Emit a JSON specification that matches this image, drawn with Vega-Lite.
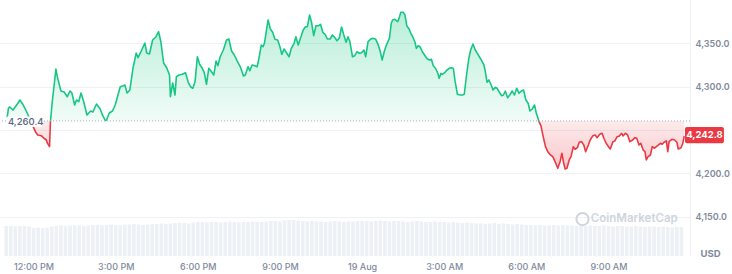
{
"$schema":"https://vega.github.io/schema/vega-lite/v6.json",
"width":690,"height":256,
"autosize":{"type":"none"},
"padding":{"left":0,"top":0,"right":42,"bottom":18},
"background":"white",
"config":{"view":{"stroke":null}},
"datasets":{
"price":[
{"t":"2025-08-18T11:01:00Z","p":4259.5},{"t":"2025-08-18T11:05:00Z","p":4275.3},{"t":"2025-08-18T11:08:00Z","p":4276.5},{"t":"2025-08-18T11:15:00Z","p":4273.0},{"t":"2025-08-18T11:26:00Z","p":4281.1},{"t":"2025-08-18T11:30:00Z","p":4284.6},{"t":"2025-08-18T11:36:00Z","p":4280.0},{"t":"2025-08-18T11:43:00Z","p":4273.0},{"t":"2025-08-18T11:46:00Z","p":4269.6},{"t":"2025-08-18T12:04:00Z","p":4248.0},{"t":"2025-08-18T12:09:00Z","p":4244.2},{"t":"2025-08-18T12:17:00Z","p":4243.4},{"t":"2025-08-18T12:22:00Z","p":4240.7},{"t":"2025-08-18T12:28:00Z","p":4238.4},{"t":"2025-08-18T12:30:00Z","p":4235.0},{"t":"2025-08-18T12:35:00Z","p":4230.7},{"t":"2025-08-18T12:37:00Z","p":4259.5},{"t":"2025-08-18T12:41:00Z","p":4282.6},{"t":"2025-08-18T12:49:00Z","p":4320.3},{"t":"2025-08-18T12:52:00Z","p":4311.5},{"t":"2025-08-18T13:00:00Z","p":4295.0},{"t":"2025-08-18T13:07:00Z","p":4293.8},{"t":"2025-08-18T13:14:00Z","p":4288.4},{"t":"2025-08-18T13:20:00Z","p":4295.0},{"t":"2025-08-18T13:24:00Z","p":4292.7},{"t":"2025-08-18T13:30:00Z","p":4278.8},{"t":"2025-08-18T13:34:00Z","p":4284.6},{"t":"2025-08-18T13:39:00Z","p":4282.6},{"t":"2025-08-18T13:44:00Z","p":4292.7},{"t":"2025-08-18T13:50:00Z","p":4282.6},{"t":"2025-08-18T13:57:00Z","p":4267.3},{"t":"2025-08-18T14:01:00Z","p":4269.6},{"t":"2025-08-18T14:05:00Z","p":4271.9},{"t":"2025-08-18T14:10:00Z","p":4270.7},{"t":"2025-08-18T14:18:00Z","p":4280.0},{"t":"2025-08-18T14:26:00Z","p":4274.2},{"t":"2025-08-18T14:31:00Z","p":4267.3},{"t":"2025-08-18T14:37:00Z","p":4261.0},{"t":"2025-08-18T14:40:00Z","p":4261.5},{"t":"2025-08-18T14:46:00Z","p":4269.6},{"t":"2025-08-18T14:53:00Z","p":4271.9},{"t":"2025-08-18T14:59:00Z","p":4278.8},{"t":"2025-08-18T15:02:00Z","p":4284.6},{"t":"2025-08-18T15:10:00Z","p":4299.9},{"t":"2025-08-18T15:17:00Z","p":4301.1},{"t":"2025-08-18T15:20:00Z","p":4301.9},{"t":"2025-08-18T15:25:00Z","p":4292.7},{"t":"2025-08-18T15:31:00Z","p":4296.1},{"t":"2025-08-18T15:38:00Z","p":4321.5},{"t":"2025-08-18T15:45:00Z","p":4338.8},{"t":"2025-08-18T15:49:00Z","p":4333.4},{"t":"2025-08-18T15:56:00Z","p":4341.1},{"t":"2025-08-18T16:04:00Z","p":4350.3},{"t":"2025-08-18T16:08:00Z","p":4338.8},{"t":"2025-08-18T16:14:00Z","p":4337.7},{"t":"2025-08-18T16:21:00Z","p":4353.8},{"t":"2025-08-18T16:28:00Z","p":4357.3},{"t":"2025-08-18T16:34:00Z","p":4363.4},{"t":"2025-08-18T16:39:00Z","p":4351.8},{"t":"2025-08-18T16:45:00Z","p":4327.3},{"t":"2025-08-18T16:52:00Z","p":4321.5},{"t":"2025-08-18T16:58:00Z","p":4313.4},{"t":"2025-08-18T17:00:00Z","p":4288.4},{"t":"2025-08-18T17:05:00Z","p":4304.2},{"t":"2025-08-18T17:10:00Z","p":4290.3},{"t":"2025-08-18T17:13:00Z","p":4311.5},{"t":"2025-08-18T17:19:00Z","p":4313.4},{"t":"2025-08-18T17:26:00Z","p":4314.2},{"t":"2025-08-18T17:33:00Z","p":4316.1},{"t":"2025-08-18T17:39:00Z","p":4305.0},{"t":"2025-08-18T17:44:00Z","p":4299.9},{"t":"2025-08-18T17:49:00Z","p":4298.1},{"t":"2025-08-18T17:54:00Z","p":4305.7},{"t":"2025-08-18T17:59:00Z","p":4334.5},{"t":"2025-08-18T18:04:00Z","p":4325.8},{"t":"2025-08-18T18:09:00Z","p":4321.8},{"t":"2025-08-18T18:14:00Z","p":4316.5},{"t":"2025-08-18T18:19:00Z","p":4302.7},{"t":"2025-08-18T18:24:00Z","p":4321.2},{"t":"2025-08-18T18:30:00Z","p":4317.2},{"t":"2025-08-18T18:35:00Z","p":4313.4},{"t":"2025-08-18T18:40:00Z","p":4329.6},{"t":"2025-08-18T18:44:00Z","p":4324.2},{"t":"2025-08-18T18:49:00Z","p":4334.5},{"t":"2025-08-18T18:56:00Z","p":4342.3},{"t":"2025-08-18T19:03:00Z","p":4353.8},{"t":"2025-08-18T19:08:00Z","p":4355.0},{"t":"2025-08-18T19:14:00Z","p":4341.1},{"t":"2025-08-18T19:20:00Z","p":4336.5},{"t":"2025-08-18T19:27:00Z","p":4328.8},{"t":"2025-08-18T19:34:00Z","p":4321.8},{"t":"2025-08-18T19:40:00Z","p":4312.3},{"t":"2025-08-18T19:44:00Z","p":4313.4},{"t":"2025-08-18T19:50:00Z","p":4323.0},{"t":"2025-08-18T19:54:00Z","p":4318.4},{"t":"2025-08-18T19:59:00Z","p":4325.0},{"t":"2025-08-18T20:05:00Z","p":4324.2},{"t":"2025-08-18T20:10:00Z","p":4323.0},{"t":"2025-08-18T20:14:00Z","p":4332.7},{"t":"2025-08-18T20:19:00Z","p":4348.0},{"t":"2025-08-18T20:23:00Z","p":4346.1},{"t":"2025-08-18T20:26:00Z","p":4350.0},{"t":"2025-08-18T20:34:00Z","p":4376.9},{"t":"2025-08-18T20:39:00Z","p":4366.5},{"t":"2025-08-18T20:44:00Z","p":4362.7},{"t":"2025-08-18T20:49:00Z","p":4354.6},{"t":"2025-08-18T20:55:00Z","p":4353.8},{"t":"2025-08-18T21:00:00Z","p":4346.1},{"t":"2025-08-18T21:04:00Z","p":4337.3},{"t":"2025-08-18T21:09:00Z","p":4343.4},{"t":"2025-08-18T21:15:00Z","p":4338.5},{"t":"2025-08-18T21:20:00Z","p":4334.5},{"t":"2025-08-18T21:25:00Z","p":4344.2},{"t":"2025-08-18T21:31:00Z","p":4350.0},{"t":"2025-08-18T21:35:00Z","p":4357.6},{"t":"2025-08-18T21:40:00Z","p":4348.0},{"t":"2025-08-18T21:45:00Z","p":4355.8},{"t":"2025-08-18T21:51:00Z","p":4365.3},{"t":"2025-08-18T21:56:00Z","p":4369.2},{"t":"2025-08-18T22:00:00Z","p":4369.2},{"t":"2025-08-18T22:05:00Z","p":4382.7},{"t":"2025-08-18T22:09:00Z","p":4374.9},{"t":"2025-08-18T22:14:00Z","p":4358.8},{"t":"2025-08-18T22:19:00Z","p":4370.3},{"t":"2025-08-18T22:25:00Z","p":4370.3},{"t":"2025-08-18T22:29:00Z","p":4371.9},{"t":"2025-08-18T22:34:00Z","p":4362.7},{"t":"2025-08-18T22:39:00Z","p":4360.4},{"t":"2025-08-18T22:44:00Z","p":4355.0},{"t":"2025-08-18T22:50:00Z","p":4355.0},{"t":"2025-08-18T22:55:00Z","p":4359.6},{"t":"2025-08-18T23:00:00Z","p":4356.9},{"t":"2025-08-18T23:05:00Z","p":4353.0},{"t":"2025-08-18T23:10:00Z","p":4355.8},{"t":"2025-08-18T23:15:00Z","p":4368.8},{"t":"2025-08-18T23:20:00Z","p":4359.6},{"t":"2025-08-18T23:25:00Z","p":4351.2},{"t":"2025-08-18T23:29:00Z","p":4357.6},{"t":"2025-08-18T23:33:00Z","p":4352.7},{"t":"2025-08-18T23:39:00Z","p":4334.5},{"t":"2025-08-18T23:44:00Z","p":4335.7},{"t":"2025-08-18T23:49:00Z","p":4340.3},{"t":"2025-08-18T23:54:00Z","p":4338.5},{"t":"2025-08-18T23:59:00Z","p":4339.2},
{"t":"2025-08-19T00:04:00Z","p":4342.3},{"t":"2025-08-19T00:08:00Z","p":4334.5},{"t":"2025-08-19T00:13:00Z","p":4351.8},{"t":"2025-08-19T00:18:00Z","p":4354.6},{"t":"2025-08-19T00:24:00Z","p":4355.8},{"t":"2025-08-19T00:30:00Z","p":4354.6},{"t":"2025-08-19T00:35:00Z","p":4348.8},{"t":"2025-08-19T00:40:00Z","p":4340.3},{"t":"2025-08-19T00:44:00Z","p":4330.7},{"t":"2025-08-19T00:49:00Z","p":4341.1},{"t":"2025-08-19T00:54:00Z","p":4348.8},{"t":"2025-08-19T01:00:00Z","p":4355.8},{"t":"2025-08-19T01:04:00Z","p":4373.1},{"t":"2025-08-19T01:07:00Z","p":4376.9},{"t":"2025-08-19T01:12:00Z","p":4377.7},{"t":"2025-08-19T01:18:00Z","p":4374.9},{"t":"2025-08-19T01:21:00Z","p":4378.8},{"t":"2025-08-19T01:25:00Z","p":4385.8},{"t":"2025-08-19T01:30:00Z","p":4385.8},{"t":"2025-08-19T01:34:00Z","p":4382.7},{"t":"2025-08-19T01:38:00Z","p":4370.3},{"t":"2025-08-19T01:43:00Z","p":4366.5},{"t":"2025-08-19T01:47:00Z","p":4361.5},{"t":"2025-08-19T01:52:00Z","p":4356.5},{"t":"2025-08-19T01:56:00Z","p":4351.2},{"t":"2025-08-19T01:59:00Z","p":4344.2},{"t":"2025-08-19T02:03:00Z","p":4347.2},{"t":"2025-08-19T02:07:00Z","p":4346.1},{"t":"2025-08-19T02:12:00Z","p":4340.3},{"t":"2025-08-19T02:18:00Z","p":4335.7},{"t":"2025-08-19T02:23:00Z","p":4331.9},{"t":"2025-08-19T02:28:00Z","p":4330.7},{"t":"2025-08-19T02:32:00Z","p":4331.5},{"t":"2025-08-19T02:36:00Z","p":4324.2},{"t":"2025-08-19T02:41:00Z","p":4321.2},{"t":"2025-08-19T02:46:00Z","p":4315.4},{"t":"2025-08-19T02:49:00Z","p":4309.6},{"t":"2025-08-19T02:53:00Z","p":4315.4},{"t":"2025-08-19T02:56:00Z","p":4314.2},{"t":"2025-08-19T03:01:00Z","p":4316.1},{"t":"2025-08-19T03:06:00Z","p":4319.2},{"t":"2025-08-19T03:11:00Z","p":4321.2},{"t":"2025-08-19T03:15:00Z","p":4321.8},{"t":"2025-08-19T03:20:00Z","p":4321.2},{"t":"2025-08-19T03:24:00Z","p":4305.7},{"t":"2025-08-19T03:29:00Z","p":4291.2},{"t":"2025-08-19T03:35:00Z","p":4290.3},{"t":"2025-08-19T03:40:00Z","p":4290.3},{"t":"2025-08-19T03:44:00Z","p":4291.2},{"t":"2025-08-19T03:49:00Z","p":4313.4},{"t":"2025-08-19T03:54:00Z","p":4332.7},{"t":"2025-08-19T03:58:00Z","p":4342.3},{"t":"2025-08-19T04:03:00Z","p":4349.2},{"t":"2025-08-19T04:08:00Z","p":4342.3},{"t":"2025-08-19T04:14:00Z","p":4337.3},{"t":"2025-08-19T04:20:00Z","p":4331.9},{"t":"2025-08-19T04:27:00Z","p":4325.0},{"t":"2025-08-19T04:30:00Z","p":4318.0},{"t":"2025-08-19T04:34:00Z","p":4305.0},{"t":"2025-08-19T04:38:00Z","p":4307.7},{"t":"2025-08-19T04:43:00Z","p":4301.9},{"t":"2025-08-19T04:47:00Z","p":4296.1},{"t":"2025-08-19T04:52:00Z","p":4299.2},{"t":"2025-08-19T04:56:00Z","p":4298.1},{"t":"2025-08-19T05:01:00Z","p":4293.5},{"t":"2025-08-19T05:06:00Z","p":4289.5},{"t":"2025-08-19T05:10:00Z","p":4290.3},{"t":"2025-08-19T05:14:00Z","p":4295.0},{"t":"2025-08-19T05:19:00Z","p":4287.2},{"t":"2025-08-19T05:25:00Z","p":4291.2},{"t":"2025-08-19T05:29:00Z","p":4295.0},{"t":"2025-08-19T05:34:00Z","p":4290.3},{"t":"2025-08-19T05:39:00Z","p":4298.1},{"t":"2025-08-19T05:44:00Z","p":4292.3},{"t":"2025-08-19T05:49:00Z","p":4295.0},{"t":"2025-08-19T05:54:00Z","p":4296.1},{"t":"2025-08-19T05:59:00Z","p":4284.6},{"t":"2025-08-19T06:04:00Z","p":4280.8},{"t":"2025-08-19T06:08:00Z","p":4271.9},{"t":"2025-08-19T06:13:00Z","p":4274.2},{"t":"2025-08-19T06:18:00Z","p":4278.8},{"t":"2025-08-19T06:22:00Z","p":4269.2},{"t":"2025-08-19T06:28:00Z","p":4259.5},{"t":"2025-08-19T06:32:00Z","p":4254.9},{"t":"2025-08-19T06:37:00Z","p":4242.2},{"t":"2025-08-19T06:42:00Z","p":4230.7},{"t":"2025-08-19T06:47:00Z","p":4224.9},{"t":"2025-08-19T06:53:00Z","p":4221.1},{"t":"2025-08-19T06:58:00Z","p":4219.2},{"t":"2025-08-19T07:03:00Z","p":4213.4},{"t":"2025-08-19T07:09:00Z","p":4205.8},{"t":"2025-08-19T07:14:00Z","p":4213.4},{"t":"2025-08-19T07:18:00Z","p":4223.1},{"t":"2025-08-19T07:22:00Z","p":4211.5},{"t":"2025-08-19T07:25:00Z","p":4205.0},{"t":"2025-08-19T07:29:00Z","p":4205.8},{"t":"2025-08-19T07:34:00Z","p":4215.4},{"t":"2025-08-19T07:38:00Z","p":4219.2},{"t":"2025-08-19T07:43:00Z","p":4230.7},{"t":"2025-08-19T07:47:00Z","p":4227.7},{"t":"2025-08-19T07:52:00Z","p":4229.5},{"t":"2025-08-19T07:56:00Z","p":4235.8},{"t":"2025-08-19T08:01:00Z","p":4236.5},{"t":"2025-08-19T08:06:00Z","p":4232.7},{"t":"2025-08-19T08:10:00Z","p":4224.9},{"t":"2025-08-19T08:16:00Z","p":4232.7},{"t":"2025-08-19T08:20:00Z","p":4238.4},{"t":"2025-08-19T08:26:00Z","p":4243.4},{"t":"2025-08-19T08:31:00Z","p":4244.2},{"t":"2025-08-19T08:35:00Z","p":4241.1},{"t":"2025-08-19T08:41:00Z","p":4245.0},{"t":"2025-08-19T08:46:00Z","p":4246.2},{"t":"2025-08-19T08:50:00Z","p":4240.4},{"t":"2025-08-19T08:55:00Z","p":4234.6},{"t":"2025-08-19T09:00:00Z","p":4230.7},{"t":"2025-08-19T09:04:00Z","p":4228.0},{"t":"2025-08-19T09:10:00Z","p":4236.5},{"t":"2025-08-19T09:14:00Z","p":4237.3},{"t":"2025-08-19T09:19:00Z","p":4242.2},{"t":"2025-08-19T09:24:00Z","p":4243.0},{"t":"2025-08-19T09:29:00Z","p":4246.2},{"t":"2025-08-19T09:32:00Z","p":4243.0},{"t":"2025-08-19T09:37:00Z","p":4246.2},{"t":"2025-08-19T09:42:00Z","p":4244.2},{"t":"2025-08-19T09:47:00Z","p":4236.5},{"t":"2025-08-19T09:53:00Z","p":4238.4},{"t":"2025-08-19T09:58:00Z","p":4241.1},{"t":"2025-08-19T10:02:00Z","p":4240.4},{"t":"2025-08-19T10:07:00Z","p":4232.7},{"t":"2025-08-19T10:11:00Z","p":4234.6},{"t":"2025-08-19T10:16:00Z","p":4226.9},{"t":"2025-08-19T10:20:00Z","p":4224.9},{"t":"2025-08-19T10:23:00Z","p":4215.4},{"t":"2025-08-19T10:27:00Z","p":4219.2},{"t":"2025-08-19T10:32:00Z","p":4221.1},{"t":"2025-08-19T10:36:00Z","p":4230.7},{"t":"2025-08-19T10:41:00Z","p":4228.9},{"t":"2025-08-19T10:45:00Z","p":4230.7},{"t":"2025-08-19T10:50:00Z","p":4232.7},{"t":"2025-08-19T10:54:00Z","p":4234.6},{"t":"2025-08-19T10:58:00Z","p":4233.5},{"t":"2025-08-19T11:02:00Z","p":4235.8},{"t":"2025-08-19T11:07:00Z","p":4237.3},{"t":"2025-08-19T11:10:00Z","p":4224.9},{"t":"2025-08-19T11:13:00Z","p":4236.5},{"t":"2025-08-19T11:19:00Z","p":4239.2},{"t":"2025-08-19T11:25:00Z","p":4238.4},{"t":"2025-08-19T11:30:00Z","p":4235.8},{"t":"2025-08-19T11:33:00Z","p":4228.0},{"t":"2025-08-19T11:39:00Z","p":4229.5},{"t":"2025-08-19T11:43:00Z","p":4234.6},{"t":"2025-08-19T11:46:00Z","p":4242.8}
],
"vol":[
{"t":"2025-08-18T11:00:00Z","v":300},{"t":"2025-08-18T11:10:00Z","v":300},{"t":"2025-08-18T11:20:00Z","v":295},{"t":"2025-08-18T11:30:00Z","v":300},{"t":"2025-08-18T11:40:00Z","v":300},{"t":"2025-08-18T11:50:00Z","v":295},{"t":"2025-08-18T12:00:00Z","v":280},{"t":"2025-08-18T12:10:00Z","v":285},{"t":"2025-08-18T12:20:00Z","v":280},{"t":"2025-08-18T12:30:00Z","v":285},{"t":"2025-08-18T12:40:00Z","v":295},{"t":"2025-08-18T12:50:00Z","v":300},{"t":"2025-08-18T13:00:00Z","v":305},{"t":"2025-08-18T13:10:00Z","v":300},{"t":"2025-08-18T13:20:00Z","v":305},{"t":"2025-08-18T13:30:00Z","v":310},{"t":"2025-08-18T13:40:00Z","v":305},{"t":"2025-08-18T13:50:00Z","v":300},{"t":"2025-08-18T14:00:00Z","v":305},{"t":"2025-08-18T14:10:00Z","v":310},{"t":"2025-08-18T14:20:00Z","v":310},{"t":"2025-08-18T14:30:00Z","v":305},{"t":"2025-08-18T14:40:00Z","v":310},{"t":"2025-08-18T14:50:00Z","v":315},{"t":"2025-08-18T15:00:00Z","v":310},{"t":"2025-08-18T15:10:00Z","v":310},{"t":"2025-08-18T15:20:00Z","v":315},{"t":"2025-08-18T15:30:00Z","v":315},{"t":"2025-08-18T15:40:00Z","v":320},{"t":"2025-08-18T15:50:00Z","v":315},{"t":"2025-08-18T16:00:00Z","v":310},{"t":"2025-08-18T16:10:00Z","v":315},{"t":"2025-08-18T16:20:00Z","v":320},{"t":"2025-08-18T16:30:00Z","v":320},{"t":"2025-08-18T16:40:00Z","v":325},{"t":"2025-08-18T16:50:00Z","v":320},{"t":"2025-08-18T17:00:00Z","v":325},{"t":"2025-08-18T17:10:00Z","v":330},{"t":"2025-08-18T17:20:00Z","v":335},{"t":"2025-08-18T17:30:00Z","v":330},{"t":"2025-08-18T17:40:00Z","v":325},{"t":"2025-08-18T17:50:00Z","v":335},{"t":"2025-08-18T18:00:00Z","v":340},{"t":"2025-08-18T18:10:00Z","v":340},{"t":"2025-08-18T18:20:00Z","v":335},{"t":"2025-08-18T18:30:00Z","v":340},{"t":"2025-08-18T18:40:00Z","v":340},{"t":"2025-08-18T18:50:00Z","v":335},{"t":"2025-08-18T19:00:00Z","v":340},{"t":"2025-08-18T19:10:00Z","v":345},{"t":"2025-08-18T19:20:00Z","v":340},{"t":"2025-08-18T19:30:00Z","v":335},{"t":"2025-08-18T19:40:00Z","v":340},{"t":"2025-08-18T19:50:00Z","v":340},{"t":"2025-08-18T20:00:00Z","v":345},{"t":"2025-08-18T20:10:00Z","v":340},{"t":"2025-08-18T20:20:00Z","v":340},{"t":"2025-08-18T20:30:00Z","v":345},{"t":"2025-08-18T20:40:00Z","v":350},{"t":"2025-08-18T20:50:00Z","v":350},{"t":"2025-08-18T21:00:00Z","v":345},{"t":"2025-08-18T21:10:00Z","v":355},{"t":"2025-08-18T21:20:00Z","v":360},{"t":"2025-08-18T21:30:00Z","v":360},{"t":"2025-08-18T21:40:00Z","v":355},{"t":"2025-08-18T21:50:00Z","v":350},{"t":"2025-08-18T22:00:00Z","v":345},{"t":"2025-08-18T22:10:00Z","v":350},{"t":"2025-08-18T22:20:00Z","v":345},{"t":"2025-08-18T22:30:00Z","v":345},{"t":"2025-08-18T22:40:00Z","v":340},{"t":"2025-08-18T22:50:00Z","v":345},{"t":"2025-08-18T23:00:00Z","v":350},{"t":"2025-08-18T23:10:00Z","v":345},{"t":"2025-08-18T23:20:00Z","v":340},{"t":"2025-08-18T23:30:00Z","v":345},{"t":"2025-08-18T23:40:00Z","v":345},{"t":"2025-08-18T23:50:00Z","v":350},
{"t":"2025-08-19T00:00:00Z","v":350},{"t":"2025-08-19T00:10:00Z","v":350},{"t":"2025-08-19T00:20:00Z","v":345},{"t":"2025-08-19T00:30:00Z","v":350},{"t":"2025-08-19T00:40:00Z","v":355},{"t":"2025-08-19T00:50:00Z","v":350},{"t":"2025-08-19T01:00:00Z","v":345},{"t":"2025-08-19T01:10:00Z","v":350},{"t":"2025-08-19T01:20:00Z","v":350},{"t":"2025-08-19T01:30:00Z","v":345},{"t":"2025-08-19T01:40:00Z","v":340},{"t":"2025-08-19T01:50:00Z","v":345},{"t":"2025-08-19T02:00:00Z","v":350},{"t":"2025-08-19T02:10:00Z","v":345},{"t":"2025-08-19T02:20:00Z","v":340},{"t":"2025-08-19T02:30:00Z","v":340},{"t":"2025-08-19T02:40:00Z","v":345},{"t":"2025-08-19T02:50:00Z","v":340},{"t":"2025-08-19T03:00:00Z","v":340},{"t":"2025-08-19T03:10:00Z","v":335},{"t":"2025-08-19T03:20:00Z","v":340},{"t":"2025-08-19T03:30:00Z","v":335},{"t":"2025-08-19T03:40:00Z","v":330},{"t":"2025-08-19T03:50:00Z","v":335},{"t":"2025-08-19T04:00:00Z","v":330},{"t":"2025-08-19T04:10:00Z","v":325},{"t":"2025-08-19T04:20:00Z","v":325},{"t":"2025-08-19T04:30:00Z","v":320},{"t":"2025-08-19T04:40:00Z","v":325},{"t":"2025-08-19T04:50:00Z","v":330},{"t":"2025-08-19T05:00:00Z","v":320},{"t":"2025-08-19T05:10:00Z","v":325},{"t":"2025-08-19T05:20:00Z","v":320},{"t":"2025-08-19T05:30:00Z","v":315},{"t":"2025-08-19T05:40:00Z","v":320},{"t":"2025-08-19T05:50:00Z","v":315},{"t":"2025-08-19T06:00:00Z","v":310},{"t":"2025-08-19T06:10:00Z","v":310},{"t":"2025-08-19T06:20:00Z","v":305},{"t":"2025-08-19T06:30:00Z","v":310},{"t":"2025-08-19T06:40:00Z","v":305},{"t":"2025-08-19T06:50:00Z","v":305},{"t":"2025-08-19T07:00:00Z","v":310},{"t":"2025-08-19T07:10:00Z","v":305},{"t":"2025-08-19T07:20:00Z","v":310},{"t":"2025-08-19T07:30:00Z","v":305},{"t":"2025-08-19T07:40:00Z","v":305},{"t":"2025-08-19T07:50:00Z","v":300},{"t":"2025-08-19T08:00:00Z","v":305},{"t":"2025-08-19T08:10:00Z","v":300},{"t":"2025-08-19T08:20:00Z","v":305},{"t":"2025-08-19T08:30:00Z","v":300},{"t":"2025-08-19T08:40:00Z","v":300},{"t":"2025-08-19T08:50:00Z","v":305},{"t":"2025-08-19T09:00:00Z","v":300},{"t":"2025-08-19T09:10:00Z","v":295},{"t":"2025-08-19T09:20:00Z","v":300},{"t":"2025-08-19T09:30:00Z","v":300},{"t":"2025-08-19T09:40:00Z","v":295},{"t":"2025-08-19T09:50:00Z","v":295},{"t":"2025-08-19T10:00:00Z","v":300},{"t":"2025-08-19T10:10:00Z","v":295},{"t":"2025-08-19T10:20:00Z","v":290},{"t":"2025-08-19T10:30:00Z","v":295},{"t":"2025-08-19T10:40:00Z","v":295},{"t":"2025-08-19T10:50:00Z","v":290},{"t":"2025-08-19T11:00:00Z","v":295},{"t":"2025-08-19T11:10:00Z","v":290},{"t":"2025-08-19T11:20:00Z","v":285},{"t":"2025-08-19T11:30:00Z","v":290},{"t":"2025-08-19T11:40:00Z","v":290}
]
},
"layer":[
{
"data":{"name":"vol"},
"mark":{"type":"bar","color":"#edf0f4","size":3.6},
"encoding":{
"x":{"field":"t","type":"temporal","scale":{"type":"utc","nice":false,"domain":[{"year":2025,"month":8,"date":18,"hours":10,"minutes":57,"seconds":24,"utc":true},{"year":2025,"month":8,"date":19,"hours":11,"minutes":47,"seconds":48,"utc":true}]},"axis":{"title":null}},
"y":{"field":"v","type":"quantitative","scale":{"domain":[0,2560],"nice":false,"zero":true},"axis":null}
}
},
{
"data":{"name":"price"},
"layer":[
{
"mark":{"type":"area","interpolate":"linear","fill":{"gradient":"linear","x1":0,"y1":0,"x2":0,"y2":1,"stops":[{"offset":0,"color":"rgba(22,199,132,0.30)"},{"offset":0.6936,"color":"rgba(22,199,132,0.06)"},{"offset":0.6936,"color":"rgba(234,57,67,0.10)"},{"offset":1,"color":"rgba(234,57,67,0.28)"}]}},
"encoding":{
"x":{"field":"t","type":"temporal","scale":{"type":"utc","nice":false,"domain":[{"year":2025,"month":8,"date":18,"hours":10,"minutes":57,"seconds":24,"utc":true},{"year":2025,"month":8,"date":19,"hours":11,"minutes":47,"seconds":48,"utc":true}]},
"axis":{"values":[{"year":2025,"month":8,"date":18,"hours":12,"utc":true},{"year":2025,"month":8,"date":18,"hours":15,"utc":true},{"year":2025,"month":8,"date":18,"hours":18,"utc":true},{"year":2025,"month":8,"date":18,"hours":21,"utc":true},{"year":2025,"month":8,"date":19,"hours":0,"utc":true},{"year":2025,"month":8,"date":19,"hours":3,"utc":true},{"year":2025,"month":8,"date":19,"hours":6,"utc":true},{"year":2025,"month":8,"date":19,"hours":9,"utc":true}],
"labelExpr":"utchours(datum.value) == 0 ? utcFormat(datum.value, '%-d %b') : utcFormat(datum.value, '%-I:%M %p')",
"title":null,"domain":false,"ticks":false,"grid":false,"labelFont":"Inter","labelFontSize":9,"labelFontWeight":500,"labelColor":"#808a9d","labelPadding":6,"labelFlush":false,"labelOverlap":false}},
"y":{"field":"p","type":"quantitative","scale":{"domain":[4104.5,4400],"nice":false,"zero":false},
"axis":{"orient":"right","values":[4150,4200,4250,4300,4350],"format":",.1f","labelExpr":"datum.value == 4250 ? '' : datum.label","grid":true,"gridColor":"#eff1f4","gridWidth":1,"domain":true,"domainColor":"#eef0f3","ticks":false,"labelFont":"Inter","labelFontSize":9,"labelFontWeight":600,"labelColor":"#808a9d","labelPadding":5,
"title":"USD","titleAngle":0,"titleFont":"Inter","titleFontSize":9.5,"titleFontWeight":700,"titleColor":"#808a9d","titleX":10,"titleY":253,"titleAlign":"left","titleBaseline":"middle"}},
"y2":{"datum":4260.4}
}
},
{
"mark":{"type":"line","interpolate":"linear","strokeWidth":1.6,"strokeJoin":"round","stroke":{"gradient":"linear","x1":0,"y1":0,"x2":0,"y2":1,"stops":[{"offset":0,"color":"#16c784"},{"offset":0.6936,"color":"#16c784"},{"offset":0.6936,"color":"#ea3943"},{"offset":1,"color":"#ea3943"}]}},
"encoding":{
"x":{"field":"t","type":"temporal","axis":{"title":null}},
"y":{"field":"p","type":"quantitative","axis":{"title":"USD"}}
}
},
{
"data":{"values":[{}]},
"mark":{"type":"rule","color":"#a9b1bf","strokeWidth":1,"strokeDash":[1,2]},
"encoding":{"y":{"datum":4260.4,"type":"quantitative","axis":{"title":"USD"}}}
},
{
"data":{"values":[{}]},
"mark":{"type":"rect","color":"white","opacity":0.95,"cornerRadius":2},
"encoding":{
"x":{"datum":{"year":2025,"month":8,"date":18,"hours":10,"minutes":59,"seconds":36,"utc":true},"type":"temporal","axis":{"title":null}},
"x2":{"datum":{"year":2025,"month":8,"date":18,"hours":12,"minutes":19,"seconds":30,"utc":true}},
"y":{"datum":4265.5,"type":"quantitative","axis":{"title":"USD"}},
"y2":{"datum":4253.4}
}
},
{
"data":{"values":[{"label":"4,260.4"}]},
"mark":{"type":"text","font":"Inter","fontSize":9.5,"fontWeight":500,"color":"#58667e","align":"center","baseline":"middle"},
"encoding":{
"x":{"datum":{"year":2025,"month":8,"date":18,"hours":11,"minutes":42,"seconds":48,"utc":true},"type":"temporal","axis":{"title":null}},
"y":{"datum":4259.6,"type":"quantitative","axis":{"title":"USD"}},
"text":{"field":"label"}
}
},
{
"data":{"values":[{}]},
"mark":{"type":"rect","color":"#ea3943","cornerRadius":2},
"encoding":{
"x":{"datum":{"year":2025,"month":8,"date":19,"hours":11,"minutes":47,"seconds":48,"utc":true},"type":"temporal","axis":{"title":null}},
"x2":{"datum":{"year":2025,"month":8,"date":19,"hours":13,"minutes":13,"seconds":6,"utc":true}},
"y":{"datum":4253.4,"type":"quantitative","axis":{"title":"USD"}},
"y2":{"datum":4234.6}
}
},
{
"data":{"values":[{"label":"4,242.8"}]},
"mark":{"type":"text","font":"Inter","fontSize":9.5,"fontWeight":700,"color":"white","align":"center","baseline":"middle"},
"encoding":{
"x":{"datum":{"year":2025,"month":8,"date":19,"hours":12,"minutes":30,"seconds":24,"utc":true},"type":"temporal","axis":{"title":null}},
"y":{"datum":4244.0,"type":"quantitative","axis":{"title":"USD"}},
"text":{"field":"label"}
}
},
{
"data":{"values":[{}]},
"mark":{"type":"point","shape":"circle","filled":false,"stroke":"#cfd5df","strokeWidth":2,"size":150,"opacity":1},
"encoding":{
"x":{"datum":{"year":2025,"month":8,"date":19,"hours":8,"minutes":3,"seconds":12,"utc":true},"type":"temporal","axis":{"title":null}},
"y":{"datum":4147.2,"type":"quantitative","axis":{"title":"USD"}}
}
},
{
"data":{"values":[{"label":"CoinMarketCap"}]},
"mark":{"type":"text","font":"Inter","fontSize":11.5,"fontWeight":600,"color":"#cfd5df","align":"center","baseline":"middle"},
"encoding":{
"x":{"datum":{"year":2025,"month":8,"date":19,"hours":9,"minutes":56,"seconds":36,"utc":true},"type":"temporal","axis":{"title":null}},
"y":{"datum":4147.2,"type":"quantitative","axis":{"title":"USD"}},
"text":{"field":"label"}
}
}
]
}
],
"resolve":{"scale":{"y":"independent"}}
}
